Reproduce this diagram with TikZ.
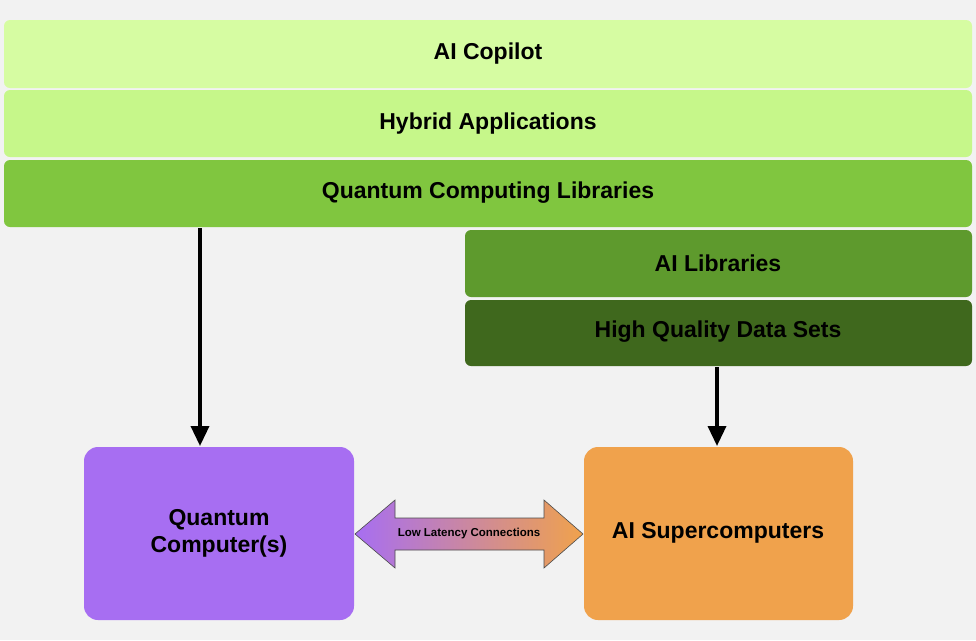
\documentclass[tikz,border=0pt]{standalone}
\usepackage{fontspec}
\setmainfont{Liberation Sans}
\usetikzlibrary{arrows.meta}
\begin{document}
\begin{tikzpicture}[x=1pt,y=-1pt,
 bar/.style={rounded corners=6pt,draw=none},
 lbl/.style={font=\bfseries\fontsize{23}{27}\selectfont},
 box/.style={rounded corners=14pt,draw=none},
 arr/.style={line width=3.5pt,-{Triangle[length=20pt,width=18pt]}}]
\fill[white!95!black] (0,0) rectangle (976,640);
\useasboundingbox (0,0) rectangle (976,640);
\definecolor{c1}{HTML}{D6FCA2}\definecolor{c2}{HTML}{C6F78A}
\definecolor{c3}{HTML}{80C63F}\definecolor{c4}{HTML}{5E9A2D}
\definecolor{c5}{HTML}{3F681D}\definecolor{pu}{HTML}{A76EF2}
\definecolor{or}{HTML}{F0A24C}
\fill[bar,c1] (4,20) rectangle (972,88);
\node[lbl] (copilot) at (488,54) {AI Copilot};
\fill[bar,c2] (4,90) rectangle (972,157);
\node[lbl] (hybrid) at (488,124) {Hybrid Applications};
\fill[bar,c3] (4,160) rectangle (972,227);
\node[lbl] (qlib) at (488,193) {Quantum Computing Libraries};
\fill[bar,c4] (465,230) rectangle (972,297);
\node[lbl] (ailib) at (718,263) {AI Libraries};
\fill[bar,c5] (465,300) rectangle (972,366);
\node[lbl] (data) at (718,332) {High Quality Data Sets};
\fill[box,pu] (84,447) rectangle (354,620);
\node[lbl,align=center] (qc) at (219,533) {Quantum\\Computer(s)};
\fill[box,or] (584,447) rectangle (853,620);
\node[lbl] (ais) at (718,533) {AI Supercomputers};
\shade[left color=pu,right color=or,draw=black!70,line width=0.6pt]
 (355,534) -- (395,500) -- (395,518) -- (544,518) -- (544,500) -- (583,534)
 -- (544,568) -- (544,550) -- (395,550) -- (395,568) -- cycle;
\node[font=\bfseries\fontsize{11.5}{13}\selectfont] (low) at (469,534) {Low Latency Connections};
\coordinate (qa) at (200,228); \coordinate (qb) at (200,446);
\coordinate (da) at (717,367); \coordinate (db) at (717,446);
\draw[arr] (qa) -- (qb);
\draw[arr] (da) -- (db);
\end{tikzpicture}
\end{document}
